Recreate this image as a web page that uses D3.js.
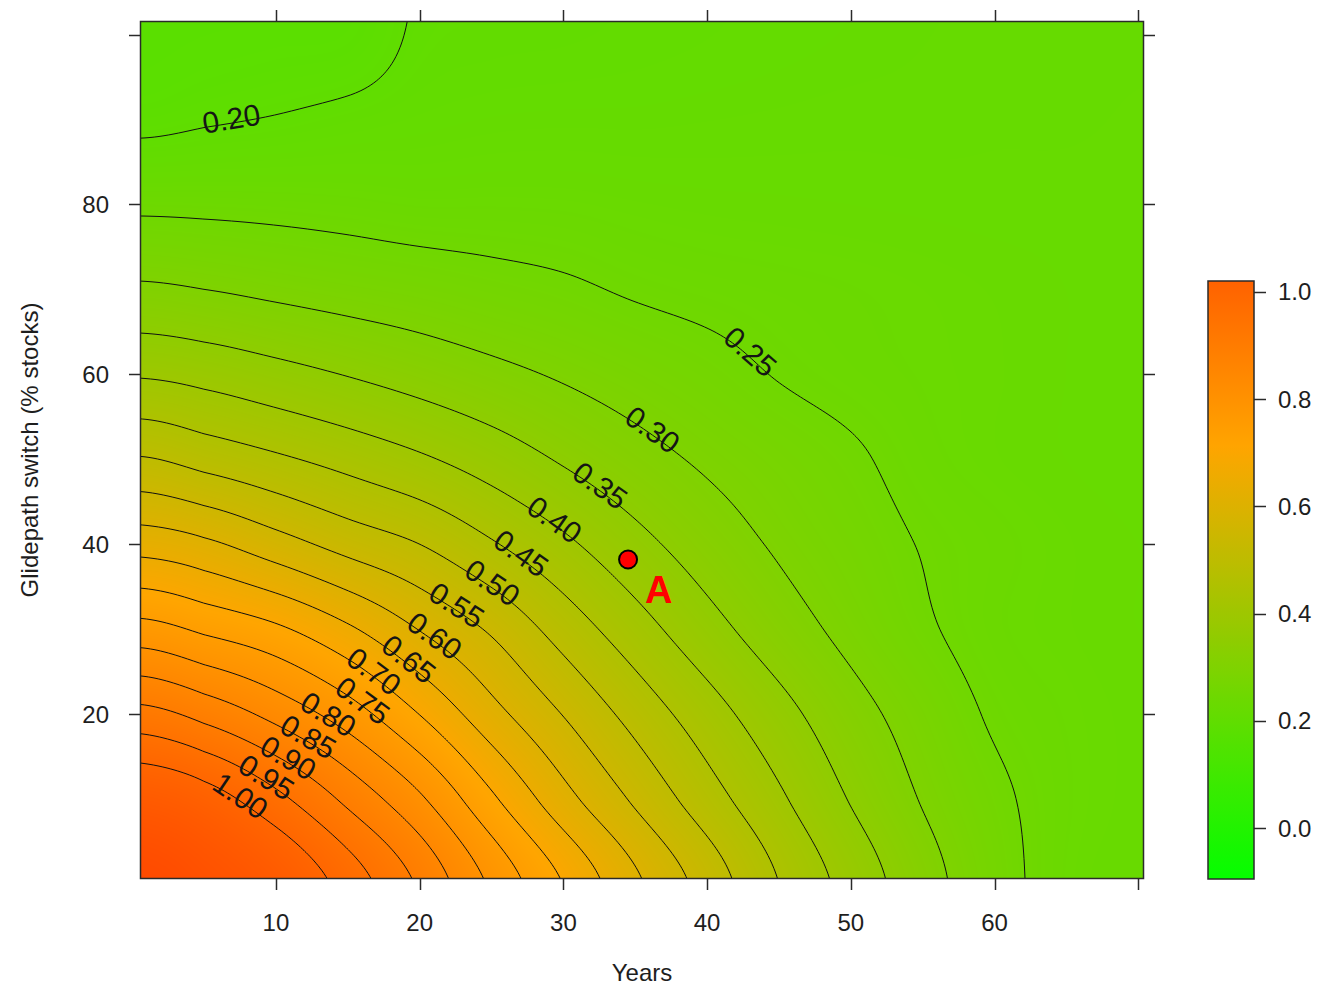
<!DOCTYPE html>
<html>
<head>
<meta charset="utf-8">
<script src="https://cdn.jsdelivr.net/npm/d3@7"></script>
<style>
  html, body { margin: 0; padding: 0; background: #ffffff; }
  svg { display: block; font-family: "Liberation Sans", Arial, Helvetica, sans-serif; }
</style>
</head>
<body>
<svg id="chart" width="1337" height="986"></svg>
<script>
// ---- data -------------------------------------------------------------
// Grid columns: years
const years = [1, 5, 10, 15, 20, 25, 30, 35, 40, 45, 50, 55, 60, 65, 70];
// Grid rows: glidepath switch (% stocks)
const switchLevels = [0, 10, 20, 30, 40, 50, 60, 70, 80, 90, 100];
// Surface values, one row per switch level, one entry per year
const surface = [
  [1.130, 1.100, 1.055, 0.980, 0.893, 0.792, 0.699, 0.610, 0.530, 0.450, 0.382, 0.320, 0.268, 0.232, 0.225], // 0
  [1.052, 1.025, 0.964, 0.888, 0.808, 0.709, 0.618, 0.542, 0.472, 0.408, 0.347, 0.297, 0.259, 0.234, 0.226], // 10
  [0.915, 0.884, 0.834, 0.775, 0.699, 0.618, 0.548, 0.482, 0.422, 0.367, 0.318, 0.279, 0.245, 0.232, 0.226], // 20
  [0.767, 0.741, 0.709, 0.658, 0.598, 0.543, 0.479, 0.421, 0.368, 0.323, 0.287, 0.256, 0.235, 0.228, 0.224], // 30
  [0.629, 0.610, 0.571, 0.532, 0.500, 0.455, 0.410, 0.365, 0.326, 0.294, 0.270, 0.248, 0.236, 0.228, 0.224], // 40
  [0.503, 0.482, 0.458, 0.433, 0.407, 0.377, 0.345, 0.317, 0.293, 0.274, 0.256, 0.237, 0.228, 0.224, 0.222], // 50
  [0.395, 0.384, 0.366, 0.348, 0.330, 0.312, 0.295, 0.279, 0.264, 0.248, 0.238, 0.232, 0.228, 0.224, 0.222], // 60
  [0.307, 0.300, 0.290, 0.281, 0.273, 0.264, 0.256, 0.246, 0.240, 0.236, 0.233, 0.230, 0.227, 0.224, 0.222], // 70
  [0.242, 0.241, 0.239, 0.236, 0.232, 0.232, 0.231, 0.228, 0.226, 0.225, 0.224, 0.223, 0.222, 0.222, 0.222], // 80
  [0.192, 0.197, 0.2015, 0.207, 0.212, 0.215, 0.216, 0.216, 0.217, 0.218, 0.219, 0.219, 0.220, 0.220, 0.221], // 90
  [0.180, 0.182, 0.184, 0.186, 0.203, 0.206, 0.207, 0.209, 0.211, 0.213, 0.215, 0.217, 0.218, 0.219, 0.220]  // 100
];

// Contour levels and the spot (years, % stocks) where each level's label is centred
const contourLevels = [0.20, 0.25, 0.30, 0.35, 0.40, 0.45, 0.50, 0.55, 0.60,
                       0.65, 0.70, 0.75, 0.80, 0.85, 0.90, 0.95, 1.00];
const labelYears  = [6.8, 42.8, 36.0, 32.3, 29.4, 26.9, 24.9, 22.6, 20.8,
                     19.0, 16.4, 15.5, 13.4, 12.0, 10.6, 9.0, 7.4];
const labelSwitch = [91.1, 62.2, 52.8, 46.4, 42.8, 38.5, 35.2, 32.8, 28.7,
                     26.1, 24.0, 20.5, 19.3, 16.6, 14.0, 11.9, 9.9];

// Highlighted portfolio
const pointA = { name: "A", year: 34.5, pct: 38.2 };

// Axis ticks
const xTicks = [10, 20, 30, 40, 50, 60, 70];
const xTickLabels = [10, 20, 30, 40, 50, 60];
const yTicks = [20, 40, 60, 80, 100];
const yTickLabels = [20, 40, 60, 80];
const colorbarTicks = [0.0, 0.2, 0.4, 0.6, 0.8, 1.0];
const colorbarRange = [-0.095, 1.02];

// Colour ramp: green -> orange -> red
const rampStops = [-0.108, 0.71, 1.47];
const rampColors = ["#00ff00", "#ffa500", "#ff0000"];

// ---- layout -----------------------------------------------------------
const svg = d3.select("#chart");
const plot = { left: 140, right: 1144, top: 21, bottom: 879 };
const W = plot.right - plot.left, H = plot.bottom - plot.top;
const x = d3.scaleLinear().domain([0.54, 70.4]).range([plot.left, plot.right]);
const y = d3.scaleLinear().domain([0.59, 101.59]).range([plot.bottom, plot.top]);
const colorOf = d3.scaleLinear().domain(rampStops).range(rampColors).clamp(true);
const textColor = "#1e1e1e";

// ---- smooth surface lookup (Catmull-Rom over the grid) ------------------
const colIndex = d3.scaleLinear().domain(years).range(d3.range(years.length));
const rowIndex = d3.scaleLinear().domain(switchLevels).range(d3.range(switchLevels.length));
const nx = years.length, ny = switchLevels.length;
function cr(p0, p1, p2, p3, t) {
  return 0.5 * (2 * p1 + (p2 - p0) * t + (2 * p0 - 5 * p1 + 4 * p2 - p3) * t * t +
                (3 * p1 - p0 - 3 * p2 + p3) * t * t * t);
}
function g(r, c) {
  return surface[Math.max(0, Math.min(ny - 1, r))][Math.max(0, Math.min(nx - 1, c))];
}
function surfaceAt(yr, pct) {
  const fx = colIndex(yr), fy = rowIndex(pct);
  const ix = Math.max(0, Math.min(Math.floor(fx), nx - 2));
  const iy = Math.max(0, Math.min(Math.floor(fy), ny - 2));
  const tx = fx - ix, ty = fy - iy;
  const r = [];
  for (let k = -1; k <= 2; k++) {
    const row = iy + k;
    r.push(cr(g(row, ix - 1), g(row, ix), g(row, ix + 1), g(row, ix + 2), tx));
  }
  return cr(r[0], r[1], r[2], r[3], ty);
}

// ---- colour lookup table ------------------------------------------------
const lutMin = -0.15, lutMax = 1.6, lutN = 2048;
const lut = new Uint8Array(lutN * 3);
for (let i = 0; i < lutN; i++) {
  const c = d3.rgb(colorOf(lutMin + (lutMax - lutMin) * i / (lutN - 1)));
  lut[i * 3] = c.r; lut[i * 3 + 1] = c.g; lut[i * 3 + 2] = c.b;
}

// ---- filled surface ---------------------------------------------------
const canvas = document.createElement("canvas");
canvas.width = W; canvas.height = H;
const ctx = canvas.getContext("2d");
const img = ctx.createImageData(W, H);
const colYears = new Float64Array(W);
for (let i = 0; i < W; i++) colYears[i] = x.invert(plot.left + i + 0.5);
for (let j = 0; j < H; j++) {
  const pct = y.invert(plot.top + j + 0.5);
  for (let i = 0; i < W; i++) {
    const v = surfaceAt(colYears[i], pct);
    let k = Math.round((v - lutMin) / (lutMax - lutMin) * (lutN - 1));
    k = Math.max(0, Math.min(lutN - 1, k));
    const o = (j * W + i) * 4;
    img.data[o] = lut[k * 3]; img.data[o + 1] = lut[k * 3 + 1]; img.data[o + 2] = lut[k * 3 + 2]; img.data[o + 3] = 255;
  }
}
ctx.putImageData(img, 0, 0);
svg.append("image")
  .attr("x", plot.left).attr("y", plot.top)
  .attr("width", W).attr("height", H)
  .attr("preserveAspectRatio", "none")
  .attr("href", canvas.toDataURL());

// ---- contour lines ----------------------------------------------------
const nCols = 503, nRows = 430;
const stepX = W / (nCols - 1), stepY = H / (nRows - 1);
const values = new Float64Array(nCols * nRows);
for (let j = 0; j < nRows; j++) {
  const pct = y.invert(plot.top + j * stepY);
  for (let i = 0; i < nCols; i++) {
    values[j * nCols + i] = surfaceAt(x.invert(plot.left + i * stepX), pct);
  }
}
const contours = d3.contours().size([nCols, nRows]).thresholds(contourLevels)(values);

const onBorder = p => p[0] <= 0 || p[0] >= nCols || p[1] <= 0 || p[1] >= nRows;
const toPx = p => [plot.left + (p[0] - 0.5) * stepX, plot.top + (p[1] - 0.5) * stepY];
function openLines(ring) {
  const start = ring.findIndex(onBorder);
  if (start < 0) return [ring.map(toPx)];
  const L = ring.length - 1, out = [];
  let cur = [];
  for (let k = 0; k <= L; k++) {
    const p = ring[(start + k) % L];
    if (onBorder(p)) { if (cur.length > 1) out.push(cur); cur = []; }
    else cur.push(toPx(p));
  }
  if (cur.length > 1) out.push(cur);
  return out;
}

const linesByLevel = contours.map(c => {
  const lines = [];
  c.coordinates.forEach(poly => poly.forEach(ring => openLines(ring).forEach(l => lines.push(l))));
  return { value: c.value, lines };
});

const defs = svg.append("defs");
defs.append("clipPath").attr("id", "plot-clip")
  .append("rect").attr("x", plot.left).attr("y", plot.top).attr("width", W).attr("height", H);

const lineGen = d3.line();
svg.append("g")
  .attr("clip-path", "url(#plot-clip)")
  .selectAll("path")
  .data(linesByLevel.flatMap(d => d.lines))
  .join("path")
  .attr("d", lineGen)
  .attr("fill", "none")
  .attr("stroke", "#111")
  .attr("stroke-width", 1);

// ---- contour labels (sitting on their line) ----------------------------
const fmt2 = d3.format(".2f");
const labelLayer = svg.append("g");
contourLevels.forEach((level, li) => {
  const entry = linesByLevel.find(d => Math.abs(d.value - level) < 1e-9);
  if (!entry || !entry.lines.length) return;
  const ax = x(labelYears[li]), ay = y(labelSwitch[li]);
  let best = null, bestD = Infinity;
  entry.lines.forEach(line => line.forEach((p, k) => {
    const d = (p[0] - ax) ** 2 + (p[1] - ay) ** 2;
    if (d < bestD) { bestD = d; best = { line, k }; }
  }));
  const { line, k } = best;
  const a = line[Math.max(0, k - 6)], b = line[Math.min(line.length - 1, k + 6)];
  let ang = Math.atan2(b[1] - a[1], b[0] - a[0]) * 180 / Math.PI;
  if (ang > 90) ang -= 180;
  if (ang < -90) ang += 180;
  const p = line[k];
  labelLayer.append("text")
    .attr("transform", `translate(${p[0]},${p[1]}) rotate(${ang})`)
    .attr("text-anchor", "middle")
    .attr("dy", "0.2em")
    .attr("font-size", 30)
    .attr("fill", "#151515")
    .text(fmt2(level));
});

// ---- frame and axes ---------------------------------------------------
const frameColor = "#2a2a2a";
svg.append("rect")
  .attr("x", plot.left + 0.5).attr("y", plot.top + 0.5)
  .attr("width", W - 1).attr("height", H - 1)
  .attr("fill", "none").attr("stroke", frameColor).attr("stroke-width", 1.5);

const tickLen = 11;
const axes = svg.append("g").attr("stroke", frameColor).attr("stroke-width", 1.5);
xTicks.forEach(v => {
  const px = Math.round(x(v)) + 0.5;
  axes.append("line").attr("x1", px).attr("x2", px).attr("y1", plot.bottom).attr("y2", plot.bottom + tickLen);
  axes.append("line").attr("x1", px).attr("x2", px).attr("y1", plot.top).attr("y2", plot.top - tickLen);
});
yTicks.forEach(v => {
  const py = Math.round(y(v)) + 0.5;
  axes.append("line").attr("y1", py).attr("y2", py).attr("x1", plot.left).attr("x2", plot.left - tickLen);
  axes.append("line").attr("y1", py).attr("y2", py).attr("x1", plot.right).attr("x2", plot.right + tickLen);
});

svg.append("g").selectAll("text").data(xTickLabels).join("text")
  .attr("x", d => x(d)).attr("y", 931)
  .attr("text-anchor", "middle").attr("font-size", 24).attr("fill", textColor)
  .text(d => d);
svg.append("g").selectAll("text").data(yTickLabels).join("text")
  .attr("x", 109).attr("y", d => y(d)).attr("dy", "0.36em")
  .attr("text-anchor", "end").attr("font-size", 24).attr("fill", textColor)
  .text(d => d);

svg.append("text")
  .attr("x", 642).attr("y", 981)
  .attr("text-anchor", "middle").attr("font-size", 24).attr("fill", textColor)
  .text("Years");
svg.append("text")
  .attr("transform", "translate(38,450) rotate(-90)")
  .attr("text-anchor", "middle").attr("font-size", 24).attr("fill", textColor)
  .text("Glidepath switch (% stocks)");

// ---- highlighted point ------------------------------------------------
svg.append("circle")
  .attr("cx", x(pointA.year)).attr("cy", y(pointA.pct)).attr("r", 9)
  .attr("fill", "#ff0000").attr("stroke", "#000").attr("stroke-width", 2);
svg.append("text")
  .attr("x", x(pointA.year) + 17).attr("y", y(pointA.pct) + 43)
  .attr("font-size", 38).attr("font-weight", "bold").attr("fill", "#ff0000")
  .text(pointA.name);

// ---- colour key -------------------------------------------------------
const key = { left: 1208, right: 1254, top: 281, bottom: 879 };
const cb = d3.scaleLinear().domain(colorbarRange).range([key.bottom, key.top]);
const grad = defs.append("linearGradient").attr("id", "key-grad")
  .attr("x1", 0).attr("y1", 1).attr("x2", 0).attr("y2", 0);
d3.range(41).forEach(i => {
  const t = i / 40;
  const v = colorbarRange[0] + t * (colorbarRange[1] - colorbarRange[0]);
  grad.append("stop").attr("offset", t).attr("stop-color", colorOf(v));
});
svg.append("rect")
  .attr("x", key.left).attr("y", key.top)
  .attr("width", key.right - key.left).attr("height", key.bottom - key.top)
  .attr("fill", "url(#key-grad)")
  .attr("stroke", frameColor).attr("stroke-width", 1.5);
colorbarTicks.forEach(v => {
  const py = Math.round(cb(v)) + 0.5;
  svg.append("line").attr("x1", key.right).attr("x2", key.right + 12)
    .attr("y1", py).attr("y2", py).attr("stroke", frameColor).attr("stroke-width", 1.5);
});
svg.append("g").selectAll("text").data(colorbarTicks).join("text")
  .attr("x", 1278).attr("y", d => cb(d)).attr("dy", "0.36em")
  .attr("font-size", 24).attr("fill", textColor)
  .text(d3.format(".1f"));
</script>
</body>
</html>
